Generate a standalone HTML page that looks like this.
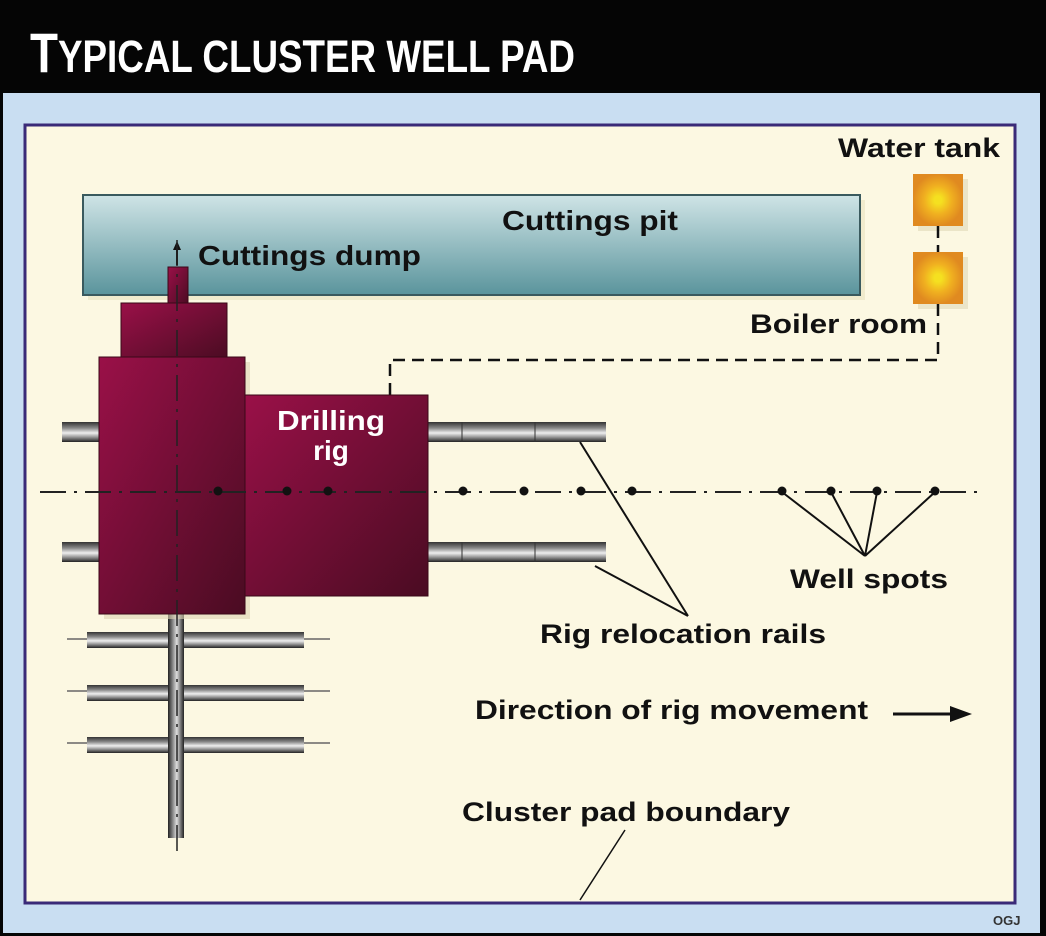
<!DOCTYPE html>
<html><head><meta charset="utf-8"><style>
html,body{margin:0;padding:0;background:#000;}
svg{display:block;}
text{font-family:"Liberation Sans",Arial,sans-serif;font-weight:bold;}
</style></head><body>
<svg width="1046" height="936" viewBox="0 0 1046 936" xmlns="http://www.w3.org/2000/svg">
<defs>
<linearGradient id="pit" x1="0" y1="0" x2="0" y2="1">
<stop offset="0" stop-color="#cfe4e6"/><stop offset="1" stop-color="#5a949c"/></linearGradient>
<linearGradient id="rig" x1="0" y1="0" x2="1" y2="1">
<stop offset="0" stop-color="#9a1048"/><stop offset="1" stop-color="#4a0c22"/></linearGradient>
<radialGradient id="tank"><stop offset="0.15" stop-color="#f5e020"/><stop offset="0.55" stop-color="#f0b020"/><stop offset="1" stop-color="#e08a20"/></radialGradient>
<linearGradient id="rail" x1="0" y1="0" x2="0" y2="1">
<stop offset="0" stop-color="#333"/><stop offset="0.3" stop-color="#888"/><stop offset="0.55" stop-color="#eee"/><stop offset="0.75" stop-color="#999"/><stop offset="1" stop-color="#222"/></linearGradient>
<linearGradient id="vrail" x1="0" y1="0" x2="1" y2="0">
<stop offset="0" stop-color="#222"/><stop offset="0.3" stop-color="#888"/><stop offset="0.55" stop-color="#ddd"/><stop offset="0.75" stop-color="#888"/><stop offset="1" stop-color="#222"/></linearGradient>
</defs>
<rect width="1046" height="936" fill="#050505"/>
<rect x="3" y="93" width="1037" height="840" fill="#c9def2"/>
<rect x="25" y="125" width="990" height="778" fill="#fcf8e2" stroke="#3a2a78" stroke-width="3"/>
<text x="30" y="72" fill="#fff" font-size="56" textLength="545" lengthAdjust="spacingAndGlyphs">T<tspan font-size="45">YPICAL CLUSTER WELL PAD</tspan></text>

<!-- cuttings pit -->
<rect x="88" y="200" width="777" height="100" fill="#e8e2c0" opacity="0.6"/>
<rect x="83" y="195" width="777" height="100" fill="url(#pit)" stroke="#3a5a5e" stroke-width="2"/>
<text x="502" y="230" font-size="28" fill="#111" textLength="176" lengthAdjust="spacingAndGlyphs">Cuttings pit</text>
<text x="198" y="265" font-size="28" fill="#111" textLength="223" lengthAdjust="spacingAndGlyphs">Cuttings dump</text>
<line x1="177" y1="265" x2="177" y2="248" stroke="#111" stroke-width="2"/>
<polygon points="173,250 181,250 177,241" fill="#111"/>

<!-- tanks -->
<rect x="918" y="179" width="50" height="52" fill="#e0d8b8" opacity="0.6"/>
<rect x="913" y="174" width="50" height="52" fill="url(#tank)"/>
<rect x="918" y="257" width="50" height="52" fill="#e0d8b8" opacity="0.6"/>
<rect x="913" y="252" width="50" height="52" fill="url(#tank)"/>
<text x="838" y="157" font-size="27" fill="#111" textLength="162" lengthAdjust="spacingAndGlyphs">Water tank</text>
<text x="750" y="333" font-size="27" fill="#111" textLength="177" lengthAdjust="spacingAndGlyphs">Boiler room</text>
<path d="M938 226 V252 M938 304 V360 H390 V395" fill="none" stroke="#111" stroke-width="2.5" stroke-dasharray="12 7"/>

<!-- rails upper -->
<rect x="62" y="422" width="40" height="20" fill="url(#rail)"/>
<rect x="62" y="542" width="40" height="20" fill="url(#rail)"/>
<rect x="426" y="422" width="180" height="20" fill="url(#rail)"/>
<rect x="426" y="542" width="180" height="20" fill="url(#rail)"/>
<path d="M462 422V442M535 422V442M462 542V562M535 542V562" stroke="#333" stroke-width="1"/>

<!-- lower rails -->
<g>
<rect x="87" y="632" width="217" height="16" fill="url(#rail)"/>
<rect x="87" y="685" width="217" height="16" fill="url(#rail)"/>
<rect x="87" y="737" width="217" height="16" fill="url(#rail)"/>
<path d="M67 639H87M304 639H330M67 691H87M304 691H330M67 743H87M304 743H330" stroke="#666" stroke-width="1.5"/>
<rect x="168" y="612" width="16" height="226" fill="url(#vrail)"/>
</g>

<!-- rig -->
<rect x="104" y="362" width="146" height="257" fill="#ddd4b4" opacity="0.6"/>
<rect x="168" y="267" width="20" height="38" fill="url(#rig)" stroke="#3a0818"/>
<rect x="121" y="303" width="106" height="56" fill="url(#rig)" stroke="#3a0818"/>
<rect x="99" y="357" width="146" height="257" fill="url(#rig)" stroke="#3a0818"/>
<rect x="245" y="395" width="183" height="201" fill="url(#rig)" stroke="#3a0818"/>
<text x="331" y="430" font-size="28" fill="#fff" text-anchor="middle" textLength="108" lengthAdjust="spacingAndGlyphs">Drilling</text>
<text x="331" y="460" font-size="28" fill="#fff" text-anchor="middle">rig</text>

<!-- centre lines -->
<line x1="40" y1="492" x2="982" y2="492" stroke="#222" stroke-width="2" stroke-dasharray="26 8 3 8"/>
<line x1="177" y1="240" x2="177" y2="857" stroke="#222" stroke-width="1.5" stroke-dasharray="26 8 3 8"/>
<g fill="#111">
<circle cx="218" cy="491" r="4.5"/><circle cx="287" cy="491" r="4.5"/><circle cx="328" cy="491" r="4.5"/>
<circle cx="463" cy="491" r="4.5"/><circle cx="524" cy="491" r="4.5"/><circle cx="581" cy="491" r="4.5"/><circle cx="632" cy="491" r="4.5"/>
<circle cx="782" cy="491" r="4.5"/><circle cx="831" cy="491" r="4.5"/><circle cx="877" cy="491" r="4.5"/><circle cx="935" cy="491" r="4.5"/>
</g>
<path d="M865 556L782 492M865 556L831 492M865 556L877 492M865 556L935 492" stroke="#111" stroke-width="2"/>
<path d="M688 616L580 442M688 616L595 566" stroke="#111" stroke-width="2"/>
<path d="M625 830L580 900" stroke="#111" stroke-width="1.5"/>

<text x="790" y="588" font-size="27" fill="#111" textLength="158" lengthAdjust="spacingAndGlyphs">Well spots</text>
<text x="540" y="643" font-size="27" fill="#111" textLength="286" lengthAdjust="spacingAndGlyphs">Rig relocation rails</text>
<text x="475" y="719" font-size="27" fill="#111" textLength="393" lengthAdjust="spacingAndGlyphs">Direction of rig movement</text>
<line x1="893" y1="714" x2="955" y2="714" stroke="#111" stroke-width="3"/>
<polygon points="950,706 972,714 950,722" fill="#111"/>
<text x="462" y="821" font-size="27" fill="#111" textLength="328" lengthAdjust="spacingAndGlyphs">Cluster pad boundary</text>
<text x="993" y="925" font-size="13" fill="#333" font-weight="normal">OGJ</text>
</svg>
</body></html>
